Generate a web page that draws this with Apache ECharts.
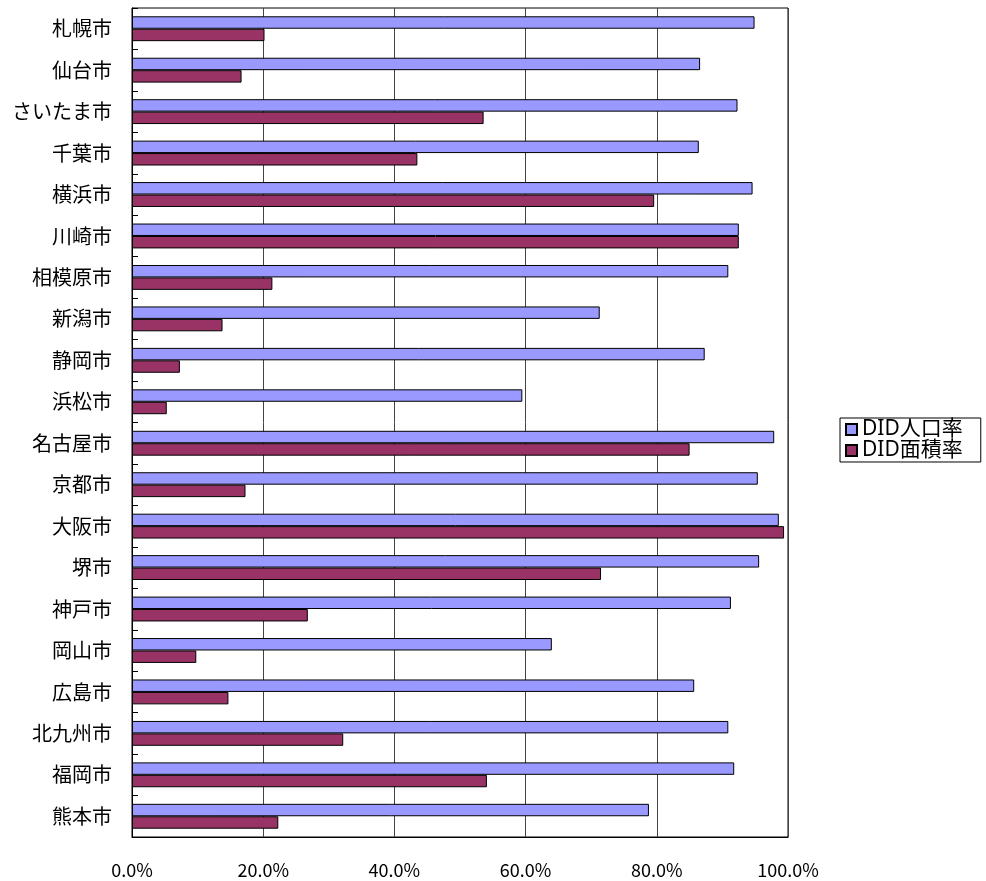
<!DOCTYPE html>
<html>
<head>
<meta charset="utf-8">
<script src="https://cdn.jsdelivr.net/npm/echarts@6/dist/echarts.min.js"></script>
<style>
  html, body { margin: 0; padding: 0; background: #fff; }
  #main { width: 986px; height: 881px; }
</style>
</head>
<body>
<div id="main"></div>
<script>
// 都市名（上から順）
const cities = ['札幌市', '仙台市', 'さいたま市', '千葉市', '横浜市', '川崎市', '相模原市', '新潟市', '静岡市', '浜松市',
  '名古屋市', '京都市', '大阪市', '堺市', '神戸市', '岡山市', '広島市', '北九州市', '福岡市', '熊本市'];

// DID人口率 (%)
const didPopRate = [94.9, 86.6, 92.3, 86.4, 94.6, 92.5, 90.9, 71.3, 87.3, 59.5,
  97.9, 95.4, 98.6, 95.6, 91.3, 64.0, 85.7, 90.9, 91.8, 78.8];

// DID面積率 (%)
const didAreaRate = [20.2, 16.7, 53.6, 43.5, 79.6, 92.5, 21.4, 13.8, 7.3, 5.3,
  85.0, 17.3, 99.4, 71.5, 26.8, 9.8, 14.7, 32.2, 54.1, 22.3];

const xMin = 0;
const xMax = 100;
const xStep = 20;

const font = '"Noto Sans CJK JP", "Noto Sans", sans-serif';
const legendFont = '"Noto Sans", "Noto Sans CJK JP", sans-serif';

const chart = echarts.init(document.getElementById('main'));

const option = {
  animation: false,
  backgroundColor: '#fff',
  textStyle: { fontFamily: font },
  legend: {
    orient: 'vertical',
    left: 840,
    top: 418,
    padding: [1, 18, 1, 5],
    itemWidth: 11,
    itemHeight: 11,
    itemGap: 0,
    borderColor: '#000',
    borderWidth: 1,
    icon: 'rect',
    textStyle: { fontSize: 21, color: '#000', lineHeight: 18, fontFamily: legendFont },
    data: ['DID人口率', 'DID面積率']
  },
  grid: {
    left: 132,
    right: 198,
    top: 8,
    bottom: 44,
    show: true,
    borderColor: '#000',
    borderWidth: 1
  },
  xAxis: {
    type: 'value',
    min: xMin,
    max: xMax,
    interval: xStep,
    axisLine: { show: true, lineStyle: { color: '#000' } },
    axisTick: { show: false },
    splitLine: { show: true, lineStyle: { color: '#444', width: 1 } },
    axisLabel: {
      margin: 24,
      fontSize: 18,
      color: '#000',
      fontFamily: font,
      formatter: v => v.toFixed(1) + '%'
    }
  },
  yAxis: {
    type: 'category',
    inverse: true,
    data: cities,
    axisLine: { show: true, lineStyle: { color: '#000' } },
    axisTick: { show: true, inside: true, length: 6, lineStyle: { color: '#000' } },
    axisLabel: { margin: 20, fontSize: 20, color: '#000', fontFamily: font }
  },
  series: [
    {
      name: 'DID人口率',
      type: 'bar',
      data: didPopRate,
      barGap: '0%',
      barCategoryGap: '40%',
      itemStyle: { color: '#9999FF', borderColor: '#000', borderWidth: 1 }
    },
    {
      name: 'DID面積率',
      type: 'bar',
      data: didAreaRate,
      barGap: '0%',
      barCategoryGap: '40%',
      itemStyle: { color: '#993366', borderColor: '#000', borderWidth: 1 }
    }
  ]
};

chart.setOption(option);
</script>
</body>
</html>
